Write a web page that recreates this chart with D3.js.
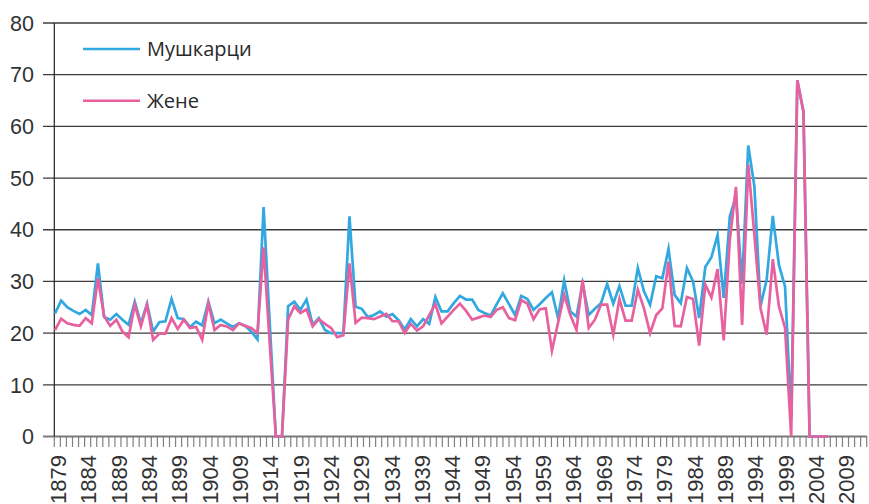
<!DOCTYPE html>
<html>
<head>
<meta charset="utf-8">
<script src="https://cdn.jsdelivr.net/npm/d3@7"></script>
<style>
  html, body { margin: 0; padding: 0; background: #fff; }
  svg { display: block; }
</style>
</head>
<body>
<svg id="chart" width="869" height="504"></svg>
<script>
// ---------------- data ----------------
const firstYear = 1879;
const lastDataYear = 2005;
const axisFirstYear = 1879;
const axisLastYear = 2012;
const seriesNames = ["Мушкарци", "Жене"];
const yTicks = [0, 10, 20, 30, 40, 50, 60, 70, 80];
const xTickLabels = [1879, 1884, 1889, 1894, 1899, 1904, 1909, 1914, 1919, 1924, 1929, 1934, 1939,
  1944, 1949, 1954, 1959, 1964, 1969, 1974, 1979, 1984, 1989, 1994, 1999, 2004, 2009];

const men = [
  23.8, 26.3, 25.0, 24.3, 23.7, 24.5, 23.5, 33.5, 23.1, 22.6,
  23.7, 22.6, 21.6, 26.1, 21.9, 25.7, 20.3, 22.1, 22.3, 26.6,
  22.9, 22.7, 21.2, 22.2, 21.5, 26.1, 21.9, 22.6, 21.9, 21.2,
  21.9, 21.4, 20.3, 18.8, 44.4, 22.0, 0, 0, 25.2, 26.1,
  24.5, 26.5, 21.6, 22.9, 20.6, 20.0, 20.0, 20.0, 42.6, 25.1,
  24.7, 23.1, 23.5, 24.2, 23.2, 23.7, 22.5, 20.7, 22.7, 21.3,
  22.7, 21.8, 27.0, 24.2, 24.2, 25.8, 27.2, 26.5, 26.5, 24.5,
  23.9, 23.4, 25.6, 27.7, 25.6, 23.5, 27.2, 26.6, 24.5, 25.6,
  26.8, 27.9, 22.9, 30.2, 24.2, 23.2, 29.6, 23.5, 24.7, 25.8,
  29.5, 25.7, 29.1, 25.3, 25.3, 32.6, 28.1, 25.5, 31.0, 30.6,
  36.3, 27.4, 25.8, 32.6, 30.0, 22.9, 32.8, 34.7, 39.0, 26.8,
  42.6, 46.5, 29.5, 56.3, 48.4, 25.2, 30.3, 42.7, 33.2, 29.0,
  3.5, 68.9, 62.8, 0, 0, 0, 0
];

const women = [
  20.6, 22.8, 21.9, 21.6, 21.4, 22.9, 21.9, 30.6, 23.3, 21.4,
  22.6, 20.3, 19.2, 25.5, 21.3, 25.5, 18.7, 19.9, 19.9, 22.9,
  20.8, 22.6, 21.0, 21.2, 18.7, 25.8, 20.6, 21.6, 21.3, 20.6,
  21.9, 21.4, 21.0, 20.0, 36.6, 18.0, 0, 0, 22.6, 25.2,
  23.9, 24.6, 21.3, 22.7, 21.8, 21.0, 19.2, 19.6, 33.5, 22.0,
  23.0, 22.9, 22.7, 23.2, 23.7, 22.3, 22.3, 20.0, 21.8, 20.5,
  21.3, 23.5, 25.6, 21.9, 23.2, 24.5, 25.7, 24.3, 22.6, 23.0,
  23.4, 23.1, 24.5, 25.0, 22.9, 22.5, 26.4, 25.7, 22.7, 24.6,
  24.8, 16.6, 22.0, 27.4, 23.5, 20.6, 30.3, 21.0, 22.6, 25.5,
  25.5, 19.7, 26.6, 22.4, 22.4, 28.4, 24.8, 20.0, 23.5, 24.8,
  33.8, 21.4, 21.3, 27.0, 26.6, 17.6, 29.4, 26.9, 32.4, 18.6,
  38.1, 48.3, 21.6, 52.6, 39.0, 24.8, 19.7, 34.3, 25.2, 21.0,
  0, 68.9, 62.9, 0, 0, 0, 0
];

// ---------------- layout ----------------
const W = 869, H = 504;
const plotLeft = 54.3, plotRight = 866.7;
const gridLeft = 43;
const yBottom = 436.5, yTop = 23;
const colors = { men: "#31a9e0", women: "#e8609e" };

const svg = d3.select("#chart");

const axisYears = d3.range(axisFirstYear, axisLastYear + 1);
const dataYears = d3.range(firstYear, lastDataYear + 1);

const xBand = d3.scaleBand().domain(axisYears).range([plotLeft, plotRight]).paddingInner(0).paddingOuter(0);
const xData = d3.scaleLinear().domain([firstYear, lastDataYear]).range([55, 828]);
const y = d3.scaleLinear().domain([0, 80]).range([yBottom, yTop]);

// grid lines
svg.append("g").selectAll("line")
  .data(yTicks.filter(v => v > 0))
  .join("line")
  .attr("x1", gridLeft).attr("x2", plotRight + 0.5)
  .attr("y1", d => y(d)).attr("y2", d => y(d))
  .attr("stroke", "#3c3c3c").attr("stroke-width", 1.3);

// x tick marks at category boundaries
const boundaries = axisYears.map(d => xBand(d)).concat([plotRight]);
svg.append("g").selectAll("line")
  .data(boundaries)
  .join("line")
  .attr("x1", d => d).attr("x2", d => d)
  .attr("y1", yBottom).attr("y2", yBottom + 10.5)
  .attr("stroke", "#808080").attr("stroke-width", 1.2);

// zero line
svg.append("line")
  .attr("x1", gridLeft).attr("x2", plotRight + 0.5)
  .attr("y1", y(0)).attr("y2", y(0))
  .attr("stroke", "#7a7a7a").attr("stroke-width", 1.8);

// y axis line
svg.append("line")
  .attr("x1", plotLeft).attr("x2", plotLeft)
  .attr("y1", yTop).attr("y2", yBottom)
  .attr("stroke", "#222").attr("stroke-width", 1.2);

// y tick labels
svg.append("g").selectAll("text")
  .data(yTicks)
  .join("text")
  .attr("x", 34).attr("y", d => y(d))
  .attr("dy", "0.36em")
  .attr("text-anchor", "end")
  .attr("font-family", "'Liberation Sans', Arial, sans-serif")
  .attr("font-size", 21.5)
  .attr("fill", "#333")
  .text(d => d);

// x tick labels
svg.append("g").selectAll("text")
  .data(xTickLabels)
  .join("text")
  .attr("transform", d => `translate(${xBand(d) + xBand.bandwidth() / 2 + 0.8},455) rotate(-90)`)
  .attr("dy", "0.36em")
  .attr("text-anchor", "end")
  .attr("font-family", "'Liberation Sans', Arial, sans-serif")
  .attr("font-size", 22)
  .attr("fill", "#333")
  .text(d => d);

// lines
const line = d3.line()
  .x((d, i) => xData(dataYears[i]))
  .y(d => y(d));

svg.append("path")
  .datum(men)
  .attr("fill", "none")
  .attr("stroke", colors.men)
  .attr("stroke-width", 2.7)
  .attr("stroke-linejoin", "miter")
  .attr("stroke-miterlimit", 6)
  .attr("d", line);

svg.append("path")
  .datum(women)
  .attr("fill", "none")
  .attr("stroke", colors.women)
  .attr("stroke-width", 2.7)
  .attr("stroke-linejoin", "miter")
  .attr("stroke-miterlimit", 6)
  .attr("d", line);

// legend
const legendItems = [
  { name: seriesNames[0], color: colors.men, ly: 49 },
  { name: seriesNames[1], color: colors.women, ly: 100.7 }
];
const lg = svg.append("g");
lg.selectAll("line")
  .data(legendItems)
  .join("line")
  .attr("x1", 83).attr("x2", 140)
  .attr("y1", d => d.ly).attr("y2", d => d.ly)
  .attr("stroke", d => d.color).attr("stroke-width", 2.6);
lg.selectAll("text")
  .data(legendItems)
  .join("text")
  .attr("x", 147)
  .attr("y", d => d.ly + 7)
  .attr("font-family", "'Open Sans', 'Noto Sans', sans-serif")
  .attr("font-size", 20)
  .attr("fill", "#2a2a2a")
  .text(d => d.name);
</script>
</body>
</html>
